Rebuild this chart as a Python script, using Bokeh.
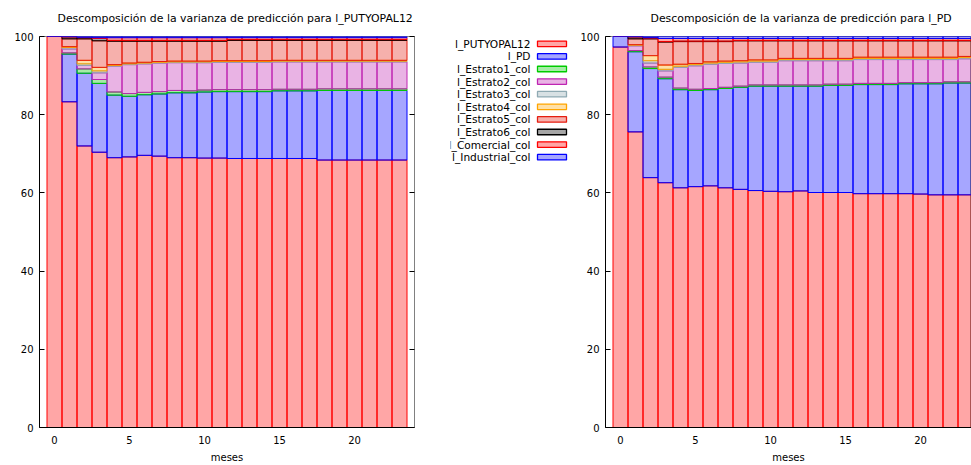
from bokeh.plotting import figure
from bokeh.models import Range1d, ColumnDataSource, LinearAxis
from bokeh.layouts import row
from bokeh.embed import file_html
from bokeh.resources import INLINE
from bokeh.core.properties import value

FONT = "DejaVu Sans"

meses = list(range(24))
x_ticks = [0, 5, 10, 15, 20]
y_ticks = [0, 20, 40, 60, 80, 100]

series_names = ["l_PUTYOPAL12", "l_PD", "l_Estrato1_col", "l_Estrato2_col",
                "l_Estrato3_col", "l_Estrato4_col", "l_Estrato5_col",
                "l_Estrato6_col", "l_Comercial_col", "l_Industrial_col"]
line_colors = ["#ff0000", "#0000ff", "#00cc00", "#bf25b2", "#8faab3",
               "#ffa500", "#e51e10", "#000000", "#ff0000", "#0000ff"]

# ---- Descomposición para l_PUTYOPAL12 (porcentajes) ----
put_PUTYOPAL12 = [100.0, 83.3, 72.0, 70.4, 69.0, 69.2, 69.6, 69.4, 69.0, 69.0, 68.9, 68.9,
                  68.8, 68.8, 68.8, 68.8, 68.8, 68.8, 68.4, 68.4, 68.4, 68.4, 68.4, 68.4]
put_PD = [0.0, 12.2, 18.6, 17.6, 16.0, 15.5, 15.5, 15.9, 16.6, 16.6, 16.9, 17.0,
          17.1, 17.1, 17.1, 17.3, 17.3, 17.3, 17.8, 17.8, 17.8, 17.8, 17.8, 17.8]
put_E1 = [0.0, 0.3, 1.1, 1.0, 0.8, 0.7, 0.6, 0.6, 0.6, 0.5, 0.5, 0.5,
          0.5, 0.5, 0.5, 0.4, 0.4, 0.4, 0.4, 0.4, 0.4, 0.4, 0.4, 0.4]
put_E2 = [0.0, 1.0, 0.9, 1.7, 6.6, 7.4, 7.3, 7.3, 7.1, 7.2, 7.0, 7.0,
          7.0, 7.0, 7.0, 7.0, 7.0, 7.0, 6.9, 6.9, 6.9, 6.9, 6.9, 6.9]
put_E3 = [0.0, 0.4, 0.4, 0.5, 0.2, 0.2, 0.2, 0.2, 0.2, 0.2, 0.2, 0.2,
          0.2, 0.2, 0.2, 0.2, 0.2, 0.2, 0.2, 0.2, 0.2, 0.2, 0.2, 0.2]
put_E4 = [0.0, 0.2, 0.9, 0.9, 0.2, 0.2, 0.2, 0.2, 0.2, 0.2, 0.2, 0.2,
          0.2, 0.2, 0.2, 0.2, 0.2, 0.2, 0.2, 0.2, 0.2, 0.2, 0.2, 0.2]
put_E5 = [0.0, 2.0, 5.5, 6.8, 6.0, 5.6, 5.4, 5.2, 5.1, 5.1, 5.1, 5.0,
          5.2, 5.2, 5.2, 5.1, 5.1, 5.1, 5.1, 5.1, 5.1, 5.1, 5.1, 5.1]
put_E6 = [0.0, 0.5, 0.3, 0.6, 0.2, 0.2, 0.2, 0.2, 0.2, 0.2, 0.2, 0.2,
          0.2, 0.2, 0.2, 0.2, 0.2, 0.2, 0.2, 0.2, 0.2, 0.2, 0.2, 0.2]
put_Com = [0.0, 0.05, 0.1, 0.2, 0.7, 0.7, 0.7, 0.7, 0.7, 0.7, 0.7, 0.7,
           0.5, 0.5, 0.5, 0.5, 0.5, 0.5, 0.5, 0.5, 0.5, 0.5, 0.5, 0.5]
put_Ind = [0.0, 0.05, 0.2, 0.3, 0.3, 0.3, 0.3, 0.3, 0.3, 0.3, 0.3, 0.3,
           0.3, 0.3, 0.3, 0.3, 0.3, 0.3, 0.3, 0.3, 0.3, 0.3, 0.3, 0.3]

# ---- Descomposición para l_PD (porcentajes) ----
pd_PUTYOPAL12 = [97.3, 75.6, 63.9, 62.6, 61.3, 61.6, 61.8, 61.3, 60.9, 60.6, 60.4, 60.3,
                 60.5, 60.1, 60.1, 60.1, 59.8, 59.8, 59.8, 59.8, 59.7, 59.5, 59.5, 59.5]
pd_PD = [2.7, 20.5, 27.9, 26.6, 25.1, 24.6, 24.6, 25.4, 26.1, 26.7, 26.9, 27.0,
         26.8, 27.2, 27.4, 27.4, 27.9, 27.9, 27.9, 28.1, 28.2, 28.4, 28.6, 28.6]
pd_E1 = [0.0, 0.3, 0.4, 0.4, 0.4, 0.3, 0.3, 0.3, 0.3, 0.3, 0.3, 0.3,
         0.3, 0.3, 0.3, 0.3, 0.3, 0.3, 0.3, 0.3, 0.3, 0.3, 0.3, 0.3]
pd_E2 = [0.0, 1.2, 1.0, 1.6, 5.3, 6.0, 6.2, 6.1, 5.9, 5.8, 5.8, 6.2,
         6.2, 6.2, 6.0, 6.0, 6.1, 6.1, 6.1, 5.9, 5.9, 5.9, 5.7, 5.9]
pd_E3 = [0.0, 0.2, 0.6, 0.4, 0.3, 0.3, 0.3, 0.3, 0.3, 0.3, 0.3, 0.3,
         0.3, 0.3, 0.3, 0.3, 0.3, 0.3, 0.3, 0.3, 0.3, 0.3, 0.3, 0.3]
pd_E4 = [0.0, 0.1, 1.3, 1.1, 0.5, 0.3, 0.3, 0.3, 0.3, 0.3, 0.3, 0.3,
         0.3, 0.3, 0.3, 0.3, 0.3, 0.3, 0.3, 0.3, 0.3, 0.3, 0.3, 0.3]
pd_E5 = [0.0, 1.5, 4.3, 5.9, 5.8, 5.6, 5.2, 5.0, 5.1, 4.9, 4.9, 4.5,
         4.5, 4.5, 4.5, 4.5, 4.2, 4.2, 4.2, 4.2, 4.2, 4.2, 4.2, 4.0]
pd_E6 = [0.0, 0.5, 0.2, 0.1, 0.1, 0.1, 0.1, 0.1, 0.1, 0.1, 0.1, 0.1,
         0.1, 0.1, 0.1, 0.1, 0.1, 0.1, 0.1, 0.1, 0.1, 0.1, 0.1, 0.1]
pd_Com = [0.0, 0.05, 0.1, 0.8, 0.7, 0.7, 0.7, 0.7, 0.5, 0.5, 0.5, 0.5,
          0.5, 0.5, 0.5, 0.5, 0.5, 0.5, 0.5, 0.5, 0.5, 0.5, 0.5, 0.5]
pd_Ind = [0.0, 0.05, 0.3, 0.5, 0.5, 0.5, 0.5, 0.5, 0.5, 0.5, 0.5, 0.5,
          0.5, 0.5, 0.5, 0.5, 0.5, 0.5, 0.5, 0.5, 0.5, 0.5, 0.5, 0.5]

put_series = [put_PUTYOPAL12, put_PD, put_E1, put_E2, put_E3, put_E4, put_E5, put_E6, put_Com, put_Ind]
pd_series = [pd_PUTYOPAL12, pd_PD, pd_E1, pd_E2, pd_E3, pd_E4, pd_E5, pd_E6, pd_Com, pd_Ind]

# common geometry (all figures share the same vertical borders)
H = 465
B_TOP = 36
B_BOTTOM = 38
FRAME_H = H - B_TOP - B_BOTTOM     # 391 px


def style_axis(ax, tick_in):
    ax.axis_line_color = "black"
    ax.major_tick_in = tick_in
    ax.major_tick_out = 0
    ax.major_tick_line_color = "black"
    ax.minor_tick_line_color = None
    ax.major_label_text_font = FONT
    ax.major_label_text_font_size = "10px"
    ax.major_label_text_color = "black"


def make_panel(title_text, series, x_end, width, b_left, b_right, title_offset, mirror):
    data = {"meses": meses}
    for name, vals in zip(series_names, series):
        data[name] = vals
    src = ColumnDataSource(data)
    p = figure(width=width, height=H, x_range=Range1d(-1, x_end), y_range=Range1d(0, 100),
               output_backend="svg", toolbar_location=None,
               min_border_left=b_left, min_border_right=b_right,
               min_border_top=B_TOP, min_border_bottom=B_BOTTOM)
    p.vbar_stack(series_names, x="meses", width=1.0, source=src,
                 fill_color=line_colors, fill_alpha=0.35,
                 line_color=line_colors, line_width=1)
    p.xgrid.visible = False
    p.ygrid.visible = False
    p.outline_line_color = "#808080"
    p.xaxis.ticker = x_ticks
    p.yaxis.ticker = y_ticks
    style_axis(p.xaxis[0], 0)
    style_axis(p.yaxis[0], 5)
    p.xaxis.major_label_standoff = 8
    p.yaxis.major_label_standoff = 6
    p.xaxis.axis_label = "meses"
    p.xaxis.axis_label_standoff = 5
    p.xaxis.axis_label_text_font = FONT
    p.xaxis.axis_label_text_font_size = "10px"
    p.xaxis.axis_label_text_font_style = "normal"
    p.xaxis.axis_label_text_color = "black"
    if mirror:
        ax_r = LinearAxis(ticker=y_ticks,
                          major_label_overrides={t: "" for t in y_ticks},
                          major_tick_in=5, major_tick_out=0, major_label_standoff=0,
                          minor_tick_line_color=None, axis_line_color="#808080",
                          major_tick_line_color="black")
        p.add_layout(ax_r, "right")
    p.title.text = title_text
    p.title.align = "left"
    p.title.vertical_align = "top"
    p.title.offset = title_offset
    p.title.text_font = FONT
    p.title.text_font_size = "10.9px"
    p.title.text_font_style = "normal"
    p.title.text_color = "black"
    p.title.standoff = 20
    return p


# page x: left figure 0..450, legend 450..574, right figure 574..971
p_left = make_panel("Descomposición de la varianza de predicción para l_PUTYOPAL12",
                    put_series, 24, 450, 39, 36, 18, True)
p_right = make_panel("Descomposición de la varianza de predicción para l_PD",
                     pd_series, 23.4, 397, 31, 0, 45, False)

# legend panel: frame coordinates expressed in page pixels (y downward)
LEG_X0, LEG_X1 = 450, 574
leg = figure(width=LEG_X1 - LEG_X0, height=H,
             x_range=Range1d(LEG_X0, LEG_X1),
             y_range=Range1d(B_TOP + FRAME_H, B_TOP),
             output_backend="svg", toolbar_location=None,
             x_axis_location=None, y_axis_location=None,
             min_border_left=0, min_border_right=0,
             min_border_top=B_TOP, min_border_bottom=B_BOTTOM)
leg.xgrid.visible = False
leg.ygrid.visible = False
leg.outline_line_color = None
row_y = [43.3 + 12.6 * i for i in range(len(series_names))]
leg.text(x=[530] * len(series_names), y=row_y, text=series_names,
         text_align="right", text_baseline="middle",
         text_font=value(FONT), text_font_size="10.6px", text_color="black")
leg.rect(x=[551.5] * len(series_names), y=row_y, width=29, height=5.5,
         fill_color=line_colors, fill_alpha=0.35, line_color=line_colors, line_width=1.3)

layout = row(p_left, leg, p_right)
open("out.html", "w").write(file_html(layout, INLINE))
